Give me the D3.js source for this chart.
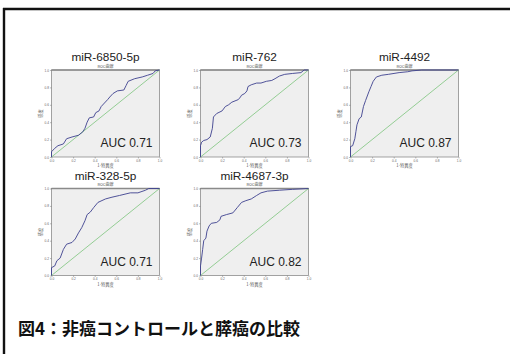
<!DOCTYPE html>
<html>
<head>
<meta charset="utf-8">
<script src="https://cdn.jsdelivr.net/npm/d3@7"></script>
<style>
  html, body { margin: 0; padding: 0; background: #fff; }
  svg { display: block; }
</style>
</head>
<body>
<svg id="chart" width="510" height="354"></svg>
<script>
// Panel titles and AUC values
const markers = ["miR-6850-5p", "miR-762", "miR-4492", "miR-328-5p", "miR-4687-3p"];
const aucValues = [0.71, 0.73, 0.87, 0.71, 0.82];

// ROC curve points [1 - specificity, sensitivity] per marker
const roc6850 = [[0,0],[0,0.06],[0.03,0.10],[0.06,0.13],[0.11,0.15],[0.14,0.21],[0.19,0.23],[0.25,0.25],[0.29,0.29],[0.31,0.33],[0.33,0.40],[0.35,0.45],[0.39,0.46],[0.41,0.51],[0.44,0.53],[0.46,0.58],[0.49,0.62],[0.52,0.66],[0.54,0.69],[0.57,0.73],[0.61,0.76],[0.67,0.77],[0.69,0.82],[0.71,0.87],[0.77,0.90],[0.84,0.92],[0.89,0.94],[0.94,0.96],[0.96,0.99],[1,1]];
const roc762 = [[0,0],[0,0.13],[0.01,0.17],[0.03,0.19],[0.06,0.20],[0.09,0.23],[0.11,0.33],[0.12,0.46],[0.15,0.50],[0.20,0.53],[0.23,0.58],[0.26,0.60],[0.29,0.63],[0.35,0.66],[0.37,0.69],[0.38,0.71],[0.41,0.73],[0.43,0.76],[0.44,0.81],[0.47,0.83],[0.52,0.85],[0.56,0.85],[0.61,0.87],[0.66,0.88],[0.69,0.90],[0.73,0.93],[0.78,0.95],[0.85,0.96],[0.93,0.97],[0.96,1],[1,1]];
const roc4492 = [[0,0],[0,0.12],[0.02,0.13],[0.04,0.21],[0.05,0.29],[0.06,0.37],[0.08,0.44],[0.10,0.46],[0.12,0.58],[0.14,0.65],[0.17,0.75],[0.19,0.81],[0.21,0.87],[0.24,0.92],[0.29,0.94],[0.35,0.95],[0.45,0.97],[0.53,0.98],[0.57,0.99],[0.66,1],[1,1]];
const roc328 = [[0,0],[0,0.09],[0.03,0.11],[0.05,0.17],[0.08,0.20],[0.11,0.30],[0.14,0.36],[0.19,0.38],[0.22,0.42],[0.25,0.49],[0.28,0.55],[0.31,0.63],[0.33,0.70],[0.36,0.73],[0.39,0.78],[0.43,0.84],[0.50,0.88],[0.56,0.90],[0.63,0.92],[0.73,0.95],[0.80,0.95],[0.87,0.98],[0.90,1],[1,1]];
const roc4687 = [[0,0],[0,0.11],[0.01,0.20],[0.02,0.30],[0.03,0.40],[0.05,0.43],[0.06,0.51],[0.08,0.57],[0.10,0.60],[0.15,0.61],[0.18,0.64],[0.19,0.68],[0.24,0.70],[0.30,0.72],[0.34,0.78],[0.38,0.84],[0.42,0.86],[0.47,0.88],[0.52,0.92],[0.56,0.95],[0.62,0.97],[0.73,0.98],[0.85,0.99],[1,1]];
const curves = [roc6850, roc762, roc4492, roc328, roc4687];

const tickValues = [0, 0.2, 0.4, 0.6, 0.8, 1.0];
const subtitle = "ROC曲線";
const xLabel = "1-特異度";
const yLabel = "感度";
const caption = "図4：非癌コントロールと膵癌の比較";

const svg = d3.select("#chart");

// Page frame (top and left rules)
svg.append("line").attr("x1", 3).attr("x2", 510).attr("y1", 9).attr("y2", 9)
  .attr("stroke", "#111").attr("stroke-width", 2.4);
svg.append("line").attr("x1", 4).attr("x2", 4).attr("y1", 8).attr("y2", 354)
  .attr("stroke", "#111").attr("stroke-width", 2.4);

// Panel grid
const boxW = 108, boxH = 87;
const colX = [51.5, 200.5, 350.5];
const rowY = [70, 188.5];

markers.forEach((name, i) => {
  const left = colX[i % 3];
  const top = rowY[Math.floor(i / 3)];
  const g = svg.append("g").attr("transform", `translate(${left},${top})`);

  const x = d3.scaleLinear().domain([0, 1]).range([0, boxW]);
  const y = d3.scaleLinear().domain([0, 1]).range([boxH, 0]);

  // Title and subtitle
  g.append("text").attr("x", boxW / 2).attr("y", -9)
    .attr("text-anchor", "middle")
    .attr("font-family", "Liberation Sans, Arial, sans-serif")
    .attr("font-size", 11.8).attr("fill", "#222")
    .text(name);
  g.append("text").attr("x", boxW / 2).attr("y", -2.5)
    .attr("text-anchor", "middle")
    .attr("font-family", "Noto Sans CJK JP, sans-serif")
    .attr("font-size", 4).attr("fill", "#555")
    .text(subtitle);

  // Plot area
  g.append("rect").attr("width", boxW).attr("height", boxH)
    .attr("fill", "#efefef").attr("stroke", "#8c8c8c").attr("stroke-width", 0.8);
  g.append("line").attr("x1", 0).attr("x2", boxW).attr("y1", 0).attr("y2", 0)
    .attr("stroke", "#8a8a8a").attr("stroke-width", 1.6);

  // Axes
  const xAxis = d3.axisBottom(x).tickValues(tickValues).tickFormat(d3.format(".1f"))
    .tickSize(1.5).tickPadding(1);
  const yAxis = d3.axisLeft(y).tickValues(tickValues).tickFormat(d3.format(".1f"))
    .tickSize(1.5).tickPadding(1);
  const gx = g.append("g").attr("transform", `translate(0,${boxH})`).call(xAxis);
  const gy = g.append("g").call(yAxis);
  [gx, gy].forEach(a => {
    a.select(".domain").remove();
    a.selectAll("line").attr("stroke", "#777").attr("stroke-width", 0.5);
    a.selectAll("text").attr("font-size", 3.2).attr("fill", "#666")
      .attr("font-family", "Liberation Sans, Arial, sans-serif");
  });

  // Axis titles
  g.append("text").attr("x", boxW / 2).attr("y", boxH + 10)
    .attr("text-anchor", "middle")
    .attr("font-family", "Noto Sans CJK JP, sans-serif")
    .attr("font-size", 4.2).attr("fill", "#555")
    .text(xLabel);
  g.append("text")
    .attr("transform", `translate(-10,${boxH / 2}) rotate(-90)`)
    .attr("text-anchor", "middle")
    .attr("font-family", "Noto Sans CJK JP, sans-serif")
    .attr("font-size", 4.2).attr("fill", "#555")
    .text(yLabel);

  // Reference diagonal
  const line = d3.line().x(d => x(d[0])).y(d => y(d[1]));
  g.append("path").datum([[0, 0], [1, 1]]).attr("d", line)
    .attr("fill", "none").attr("stroke", "#7cc47c").attr("stroke-width", 0.8);

  // ROC curve
  g.append("path").datum(curves[i]).attr("d", line)
    .attr("fill", "none").attr("stroke", "#3d418f").attr("stroke-width", 0.9);

  // AUC label
  g.append("text").attr("x", boxW - 7).attr("y", boxH - 10)
    .attr("text-anchor", "end")
    .attr("font-family", "Liberation Sans, Arial, sans-serif")
    .attr("font-size", 12).attr("fill", "#222")
    .text("AUC " + d3.format(".2f")(aucValues[i]));
});

// Figure caption
svg.append("text").attr("x", 18).attr("y", 335)
  .attr("font-family", "Noto Sans CJK JP, sans-serif")
  .attr("font-weight", "bold").attr("font-size", 17).attr("fill", "#111")
  .text(caption);
</script>
</body>
</html>
